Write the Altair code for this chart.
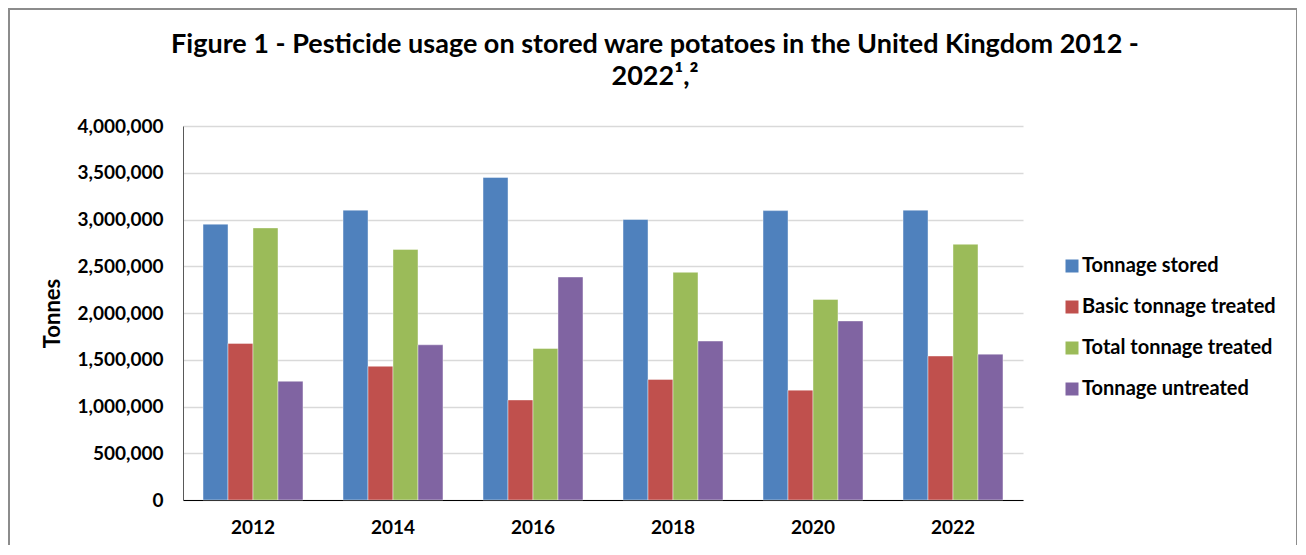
import altair as alt
import pandas as pd

years = ["2012", "2014", "2016", "2018", "2020", "2022"]
series = ["Tonnage stored", "Basic tonnage treated", "Total tonnage treated", "Tonnage untreated"]
tonnage_stored = [2950000, 3100000, 3450000, 3000000, 3095000, 3100000]
basic_treated = [1675000, 1430000, 1070000, 1290000, 1175000, 1540000]
total_treated = [2910000, 2680000, 1620000, 2435000, 2145000, 2735000]
untreated = [1270000, 1660000, 2385000, 1700000, 1915000, 1560000]
colors = ["#4F81BD", "#C0504D", "#9BBB59", "#8064A2"]
y_ticks = [0, 500000, 1000000, 1500000, 2000000, 2500000, 3000000, 3500000, 4000000]

values = [tonnage_stored, basic_treated, total_treated, untreated]
rows = []
for s, vals in zip(series, values):
    for yr, v in zip(years, vals):
        rows.append({"Year": yr, "Series": s, "Tonnes": v})
df = pd.DataFrame(rows)

FONT = "Lato"

bars = alt.Chart(df).mark_bar(stroke="#ffffff", strokeWidth=0.6, strokeOpacity=0.7).encode(
    x=alt.X("Year:N", sort=years,
            scale=alt.Scale(paddingInner=0.286, paddingOuter=0.143),
            axis=alt.Axis(title=None, labelAngle=0, labelFontSize=19, labelFontWeight="bold",
                          labelPadding=18, ticks=False, domainColor="#000000", domainWidth=1,
                          labelColor="#000000", labelFont=FONT)),
    xOffset=alt.XOffset("Series:N", sort=series, scale=alt.Scale(paddingInner=0, paddingOuter=0)),
    y=alt.Y("Tonnes:Q", scale=alt.Scale(domain=[0, 4000000], nice=False),
            axis=alt.Axis(values=y_ticks, format=",.0f", title="Tonnes",
                          labelFontSize=19, labelFontWeight="bold", labelPadding=20,
                          labelColor="#000000", labelFont=FONT, ticks=False,
                          domainColor="#595959", domainWidth=1,
                          gridColor="#D9D9D9", gridWidth=1.5,
                          titleFontSize=22, titleFontWeight="bold", titleFont=FONT,
                          titleColor="#000000", titleAngle=270, titleX=-131, titleY=187,
                          titleAlign="center", titleBaseline="middle")),
    color=alt.Color("Series:N", sort=series,
                    scale=alt.Scale(domain=series, range=colors),
                    legend=alt.Legend(title=None, orient="none", legendX=879, legendY=130,
                                      symbolType="square", symbolSize=169, symbolStrokeWidth=0,
                                      labelFontSize=20, labelFontWeight="bold", labelFont=FONT,
                                      labelColor="#000000", rowPadding=21, labelOffset=0,
                                      labelLimit=400)),
)

frame = alt.Chart(df).mark_rect(fill=None, stroke="#8c8c8c", strokeWidth=2).encode(
    x=alt.value(-174), x2=alt.value(1114), y=alt.value(-117), y2=alt.value(450)
)

chart = alt.layer(frame, bars).properties(
    width=840, height=374,
    autosize=alt.AutoSizeParams(type="none"),
    padding={"left": 175, "top": 118, "right": 274, "bottom": 45},
    title=alt.TitleParams(
        text=["Figure 1 - Pesticide usage on stored ware potatoes in the United Kingdom 2012 -", "2022¹,²"],
        fontSize=27, fontWeight="bold", font=FONT, color="#000000",
        anchor="middle", dx=52, dy=118, offset=35, lineHeight=32,
    ),
).configure_view(stroke=None)

chart.save("out.html", embed_options={"renderer": "svg", "actions": False})
